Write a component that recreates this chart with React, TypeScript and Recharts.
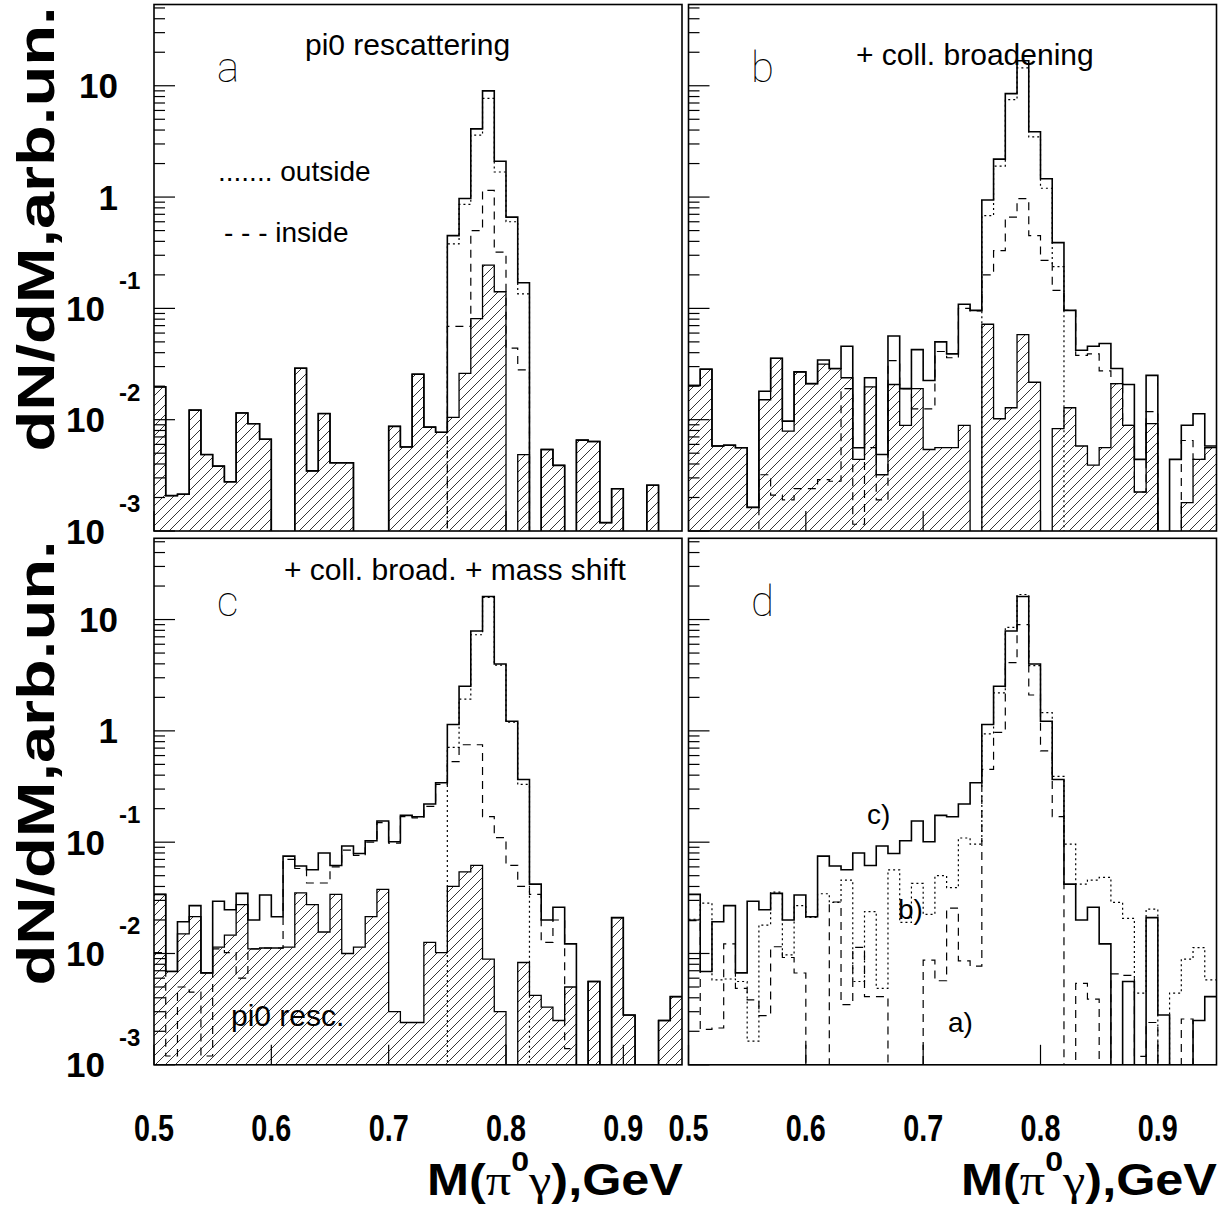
import React from "react";
import { ComposedChart, Line, Area, XAxis, YAxis } from "recharts";

const W = 1223;
const H = 1220;
const SANS = "'Liberation Sans', Arial, Helvetica, sans-serif";
const SERIF = "'Liberation Serif', 'DejaVu Serif', serif";

// bin low edges in GeV, the last entry is the upper edge of the last bin
const BIN_EDGES = [
  0.5, 0.51, 0.52, 0.53, 0.54, 0.55, 0.56, 0.57, 0.58, 0.59,
  0.6, 0.61, 0.62, 0.63, 0.64, 0.65, 0.66, 0.67, 0.68, 0.69,
  0.7, 0.71, 0.72, 0.73, 0.74, 0.75, 0.76, 0.77, 0.78, 0.79,
  0.8, 0.81, 0.82, 0.83, 0.84, 0.85, 0.86, 0.87, 0.88, 0.89,
  0.9, 0.91, 0.92, 0.93, 0.94, 0.95,
];

const X_DOMAIN = [0.5, 0.95];
const X_TICKS = [0.5, 0.6, 0.7, 0.8, 0.9];
const X_TICK_LABELS = ["0.5", "0.6", "0.7", "0.8", "0.9"];

const Y_DOMAIN = [0.001, 53.7];
const Y_MAJOR = [0.001, 0.01, 0.1, 1, 10];
const Y_MAJOR_BASE = ["10", "10", "10", "1", "10"];
const Y_MAJOR_EXP = ["-3", "-2", "-1", "", ""];
const Y_MINOR = [
  0.002, 0.003, 0.004, 0.005, 0.006, 0.007, 0.008, 0.009,
  0.02, 0.03, 0.04, 0.05, 0.06, 0.07, 0.08, 0.09,
  0.2, 0.3, 0.4, 0.5, 0.6, 0.7, 0.8, 0.9,
  2, 3, 4, 5, 6, 7, 8, 9,
  20, 30, 40, 50,
];

// a) pi0 rescattering
const A_TOTAL = [
  0.0197, 0.00208, 0.00214, 0.0122, 0.00486, 0.00383, 0.00277, 0.0115, 0.0092, 0.00668,
  0, 0, 0.029, 0.00347, 0.01135, 0.0041, 0.0041, 0, 0, 0,
  0.0087, 0.00569, 0.0256, 0.00857, 0.0077, 0.45, 0.97, 4.1, 9.0, 2.1,
  0.66, 0.17, 0, 0.0054, 0.00389, 0, 0.00655, 0.00637, 0.00119, 0.0024,
  0, 0, 0.00258, 0, 0,
];
const A_OUTSIDE = [
  0, 0, 0, 0, 0, 0, 0, 0, 0, 0,
  0, 0, 0, 0, 0, 0, 0, 0, 0, 0,
  0, 0, 0, 0, 0, 0.38, 0.86, 3.6, 7.7, 1.68,
  0.6, 0.135, 0, 0, 0, 0, 0, 0, 0, 0,
  0, 0, 0, 0, 0,
];
const A_INSIDE = [
  0, 0, 0, 0, 0, 0, 0, 0, 0, 0,
  0, 0, 0, 0, 0, 0, 0, 0, 0, 0,
  0, 0, 0, 0, 0, 0.069, 0.069, 0.5, 1.15, 0.32,
  0.044, 0.028, 0, 0, 0, 0, 0, 0, 0, 0,
  0, 0, 0, 0, 0,
];
const A_RESC = [
  0.0197, 0.00208, 0.00214, 0.0122, 0.00486, 0.00383, 0.00277, 0.0115, 0.0092, 0.00668,
  0, 0, 0.029, 0.00347, 0.01135, 0.0041, 0.0041, 0, 0, 0,
  0.0087, 0.00569, 0.0256, 0.00857, 0.0077, 0.0105, 0.0261, 0.081, 0.245, 0.141,
  0, 0.00486, 0, 0.0054, 0.00389, 0, 0.00655, 0.00637, 0.00119, 0.0024,
  0, 0, 0.00258, 0, 0,
];

// b) + collisional broadening
const B_TOTAL = [
  0.0203, 0.0284, 0.0058, 0.0059, 0.0056, 0.00163, 0.018, 0.0356, 0.0097, 0.0269,
  0.0211, 0.0344, 0.0288, 0.0457, 0.0056, 0.0238, 0.00486, 0.0565, 0.019, 0.0426,
  0.0225, 0.05, 0.039, 0.109, 0.096, 0.94, 2.19, 8.5, 16.8, 3.86,
  1.46, 0.39, 0.096, 0.042, 0.0457, 0.0483, 0.0288, 0.0207, 0.0044, 0.025,
  0, 0.0044, 0.0089, 0.0113, 0.0058,
];
const B_OUTSIDE = [
  0, 0, 0, 0, 0, 0, 0, 0, 0, 0,
  0, 0, 0, 0, 0, 0, 0, 0, 0, 0,
  0, 0, 0, 0, 0, 0.68, 1.9, 7.5, 14.5, 3.47,
  1.2, 0.237, 0, 0, 0, 0, 0, 0, 0, 0,
  0, 0, 0, 0, 0,
];
const B_INSIDE = [
  0, 0, 0, 0, 0, 0, 0.0032, 0.0021, 0.0019, 0.0024,
  0.0024, 0.0029, 0.0028, 0.019, 0.00115, 0.0056, 0.0019, 0.034, 0.019, 0.0125,
  0.0125, 0.041, 0.036, 0.1, 0.095, 0.2, 0.33, 0.66, 0.97, 0.45,
  0.27, 0.145, 0.096, 0.0378, 0.039, 0.0275, 0.0211, 0.0089, 0.00224, 0.0118,
  0, 0, 0.0065, 0.0044, 0.0056,
];
const B_RESC = [
  0.0203, 0.0284, 0.0058, 0.0059, 0.0056, 0.00163, 0.0151, 0.0356, 0.0079, 0.0269,
  0.0211, 0.0316, 0.0288, 0.0238, 0.0044, 0.0197, 0.0032, 0.0207, 0.0089, 0.019,
  0.0054, 0.0056, 0.0056, 0.0089, 0, 0.072, 0.0102, 0.0128, 0.058, 0.0217,
  0, 0.0083, 0.0128, 0.0058, 0.0039, 0.0056, 0.0211, 0.0089, 0.00224, 0.0092,
  0, 0, 0.0018, 0.0044, 0.0056,
];

// c) + collisional broadening + mass shift
const C_TOTAL = [
  0.034, 0.0069, 0.0193, 0.0269, 0.0067, 0.0295, 0.0247, 0.0347, 0.02, 0.0335,
  0.0214, 0.075, 0.061, 0.0565, 0.08, 0.0618, 0.0925, 0.079, 0.103, 0.155,
  0.101, 0.174, 0.169, 0.22, 0.342, 1.14, 2.52, 7.9, 16.1, 3.99,
  1.22, 0.366, 0.042, 0.02, 0.026, 0.0122, 0, 0.0056, 0, 0.021,
  0.0028, 0, 0, 0.0025, 0.0041,
];
const C_OUTSIDE = [
  0, 0, 0, 0, 0, 0, 0, 0, 0, 0,
  0, 0, 0, 0, 0, 0, 0, 0, 0, 0,
  0, 0, 0, 0, 0, 0.71, 1.93, 7.3, 15.8, 3.9,
  1.2, 0.33, 0, 0, 0, 0, 0, 0, 0, 0,
  0, 0, 0, 0, 0,
];
const C_INSIDE = [
  0.0102, 0.0012, 0.005, 0.0045, 0.0012, 0.011, 0.0102, 0.006, 0.011, 0.0112,
  0.0112, 0.07, 0.058, 0.043, 0.043, 0.06, 0.085, 0.076, 0.1, 0.15,
  0.098, 0.17, 0.165, 0.21, 0.33, 0.53, 0.75, 0.75, 0.17, 0.11,
  0.062, 0.04, 0.034, 0.0126, 0.02, 0.0014, 0, 0, 0, 0,
  0, 0, 0, 0, 0,
];
const C_RESC = [
  0.034, 0.0069, 0.015, 0.0214, 0.0067, 0.0114, 0.0146, 0.0275, 0.011, 0.0112,
  0.0112, 0.0114, 0.035, 0.0275, 0.0156, 0.034, 0.01, 0.0114, 0.0214, 0.0377,
  0.003, 0.0024, 0.0024, 0.0126, 0.0102, 0.04, 0.054, 0.062, 0.0089, 0.003,
  0, 0.0083, 0.0042, 0.0033, 0.0025, 0.005, 0, 0.0056, 0, 0.021,
  0.0028, 0, 0, 0.0025, 0.0041,
];

// empty bins are pushed far below the axis floor and clipped away
const EMPTY = 1e-6;

type Box = { left: number; top: number; right: number; bottom: number };
type Series = { key: string; values: number[]; style: "solid" | "dotted" | "dashed" | "hatch" };

const BOX_A: Box = { left: 154, top: 4.5, right: 682, bottom: 531 };
const BOX_B: Box = { left: 688.5, top: 4.5, right: 1216.5, bottom: 531 };
const BOX_C: Box = { left: 154, top: 538.3, right: 682, bottom: 1064.8 };
const BOX_D: Box = { left: 688.5, top: 538.3, right: 1216.5, bottom: 1064.8 };

function toRows(series: Series[]) {
  return BIN_EDGES.map((x, i) => {
    const row: Record<string, number> = { x };
    series.forEach((s) => {
      const v = s.values[Math.min(i, s.values.length - 1)];
      row[s.key] = v > 0 ? v : EMPTY;
    });
    return row;
  });
}

function renderXTick(props: any, showLabel: boolean) {
  const { x, y, payload } = props;
  const idx = X_TICKS.indexOf(payload.value);
  return (
    <g>
      <line x1={x} y1={y} x2={x} y2={y - 20} stroke="#000" strokeWidth={1.2} />
      {showLabel && idx >= 0 && (
        <text
          x={x}
          y={y + 76}
          textAnchor="middle"
          fontFamily={SANS}
          fontWeight="bold"
          fontSize={37}
          textLength={40}
          lengthAdjust="spacingAndGlyphs"
        >
          {X_TICK_LABELS[idx]}
        </text>
      )}
    </g>
  );
}

function renderYTick(props: any, showLabel: boolean) {
  const { x, y, payload } = props;
  const idx = Y_MAJOR.indexOf(payload.value);
  const major = idx >= 0;
  let label = null;
  if (showLabel && major) {
    label =
      Y_MAJOR_EXP[idx] === "" ? (
        <text x={x - 36} y={y + 12.5} textAnchor="end" fontFamily={SANS} fontWeight="bold" fontSize={35}>
          {Y_MAJOR_BASE[idx]}
        </text>
      ) : (
        <g>
          <text x={x - 49} y={y + 12.5} textAnchor="end" fontFamily={SANS} fontWeight="bold" fontSize={35}>
            {Y_MAJOR_BASE[idx]}
          </text>
          <text x={x - 35} y={y - 19} textAnchor="start" fontFamily={SANS} fontWeight="bold" fontSize={24}>
            {Y_MAJOR_EXP[idx]}
          </text>
        </g>
      );
  }
  return (
    <g>
      <line x1={x} y1={y} x2={x + (major ? 21 : 11)} y2={y} stroke="#000" strokeWidth={1.2} />
      {label}
    </g>
  );
}

function HistPanel({ box, series, xLabels, yLabels }: { box: Box; series: Series[]; xLabels: boolean; yLabels: boolean }) {
  const rows = toRows(series);
  const margin = { left: box.left - 1, top: box.top, right: W - box.right, bottom: H - box.bottom - 1 };
  return (
    <div style={{ position: "absolute", left: 0, top: 0 }}>
      <ComposedChart width={W} height={H} data={rows} margin={margin}>
        <XAxis
          dataKey="x"
          type="number"
          domain={X_DOMAIN}
          ticks={X_TICKS}
          interval={0}
          height={1}
          tickSize={0}
          tickMargin={0}
          axisLine={false}
          tickLine={false}
          allowDataOverflow
          tick={(p: any) => renderXTick(p, xLabels)}
        />
        <YAxis
          type="number"
          scale="log"
          domain={Y_DOMAIN}
          ticks={[...Y_MAJOR, ...Y_MINOR]}
          interval={0}
          width={1}
          tickSize={0}
          tickMargin={0}
          axisLine={false}
          tickLine={false}
          allowDataOverflow
          tick={(p: any) => renderYTick(p, yLabels)}
        />
        {series.map((s) =>
          s.style === "hatch" ? (
            <Area
              key={s.key}
              dataKey={s.key}
              type="stepAfter"
              baseValue={Y_DOMAIN[0]}
              fill="url(#hatch3004)"
              fillOpacity={1}
              stroke="#000"
              strokeWidth={1.3}
              isAnimationActive={false}
              dot={false}
              activeDot={false}
            />
          ) : (
            <Line
              key={s.key}
              dataKey={s.key}
              type="stepAfter"
              stroke="#000"
              strokeWidth={s.style === "solid" ? 1.6 : 1.2}
              strokeDasharray={s.style === "dashed" ? "8 6" : s.style === "dotted" ? "2 3" : undefined}
              dot={false}
              activeDot={false}
              isAnimationActive={false}
            />
          )
        )}
      </ComposedChart>
    </div>
  );
}

const txt = { fontFamily: SANS, fill: "#000" } as const;
const thin = { fontFamily: "Roboto, 'DejaVu Sans', sans-serif", fontWeight: 100, fontSize: 42, fill: "#000" } as const;

function XTitle({ right }: { right: number }) {
  return (
    <text x={right} y={1195} textAnchor="end" fontFamily={SANS} fontWeight="bold" fontSize={44} textLength={256} lengthAdjust="spacingAndGlyphs">
      M(
      <tspan fontFamily={SERIF} fontWeight="normal">π</tspan>
      <tspan dy={-24} fontSize={28}>0</tspan>
      <tspan dy={24} fontFamily={SERIF} fontWeight="normal">γ</tspan>
      ),GeV
    </text>
  );
}

function YTitle({ cy }: { cy: number }) {
  return (
    <text
      transform={`translate(54, ${cy}) rotate(-90)`}
      textAnchor="middle"
      fontFamily={SANS}
      fontWeight="bold"
      fontSize={52}
      textLength={445}
      lengthAdjust="spacingAndGlyphs"
    >
      dN/dM,arb.un.
    </text>
  );
}

export default function App() {
  const boxes = [BOX_A, BOX_B, BOX_C, BOX_D];
  return (
    <div style={{ position: "absolute", left: 0, top: 0, width: W, height: H, background: "#fff", overflow: "hidden" }}>
      <HistPanel
        box={BOX_A}
        xLabels={false}
        yLabels
        series={[
          { key: "resc", values: A_RESC, style: "hatch" },
          { key: "inside", values: A_INSIDE, style: "dashed" },
          { key: "outside", values: A_OUTSIDE, style: "dotted" },
          { key: "total", values: A_TOTAL, style: "solid" },
        ]}
      />
      <HistPanel
        box={BOX_B}
        xLabels={false}
        yLabels={false}
        series={[
          { key: "resc", values: B_RESC, style: "hatch" },
          { key: "inside", values: B_INSIDE, style: "dashed" },
          { key: "outside", values: B_OUTSIDE, style: "dotted" },
          { key: "total", values: B_TOTAL, style: "solid" },
        ]}
      />
      <HistPanel
        box={BOX_C}
        xLabels
        yLabels
        series={[
          { key: "resc", values: C_RESC, style: "hatch" },
          { key: "inside", values: C_INSIDE, style: "dashed" },
          { key: "outside", values: C_OUTSIDE, style: "dotted" },
          { key: "total", values: C_TOTAL, style: "solid" },
        ]}
      />
      <HistPanel
        box={BOX_D}
        xLabels
        yLabels={false}
        series={[
          { key: "a", values: A_TOTAL, style: "dashed" },
          { key: "b", values: B_TOTAL, style: "dotted" },
          { key: "c", values: C_TOTAL, style: "solid" },
        ]}
      />

      <svg width={W} height={H} style={{ position: "absolute", left: 0, top: 0 }}>
        <defs>
          <pattern id="hatch3004" patternUnits="userSpaceOnUse" width={10} height={10}>
            <path d="M-1,1 L1,-1 M0,10 L10,0 M9,11 L11,9" stroke="#000" strokeWidth={0.8} />
          </pattern>
        </defs>
        {boxes.map((b, i) => (
          <rect key={i} x={b.left} y={b.top} width={b.right - b.left} height={b.bottom - b.top} fill="none" stroke="#000" strokeWidth={1.6} />
        ))}

        <YTitle cy={229} />
        <YTitle cy={763} />
        <XTitle right={683} />
        <XTitle right={1217} />

        <text x={217} y={82} {...thin}>a</text>
        <text x={751} y={82} {...thin}>b</text>
        <text x={217} y={616} {...thin}>c</text>
        <text x={751} y={616} {...thin}>d</text>

        <text x={305} y={55} fontSize={30} {...txt}>pi0 rescattering</text>
        <text x={218} y={181} fontSize={28} {...txt}>....... outside</text>
        <text x={224} y={242} fontSize={28} {...txt}>- - -  inside</text>
        <text x={856} y={65} fontSize={30} {...txt}>+ coll. broadening</text>
        <text x={284} y={580} fontSize={30} {...txt}>+ coll. broad. + mass shift</text>
        <text x={231} y={1026} fontSize={30} {...txt}>pi0 resc.</text>
        <text x={867} y={824} fontSize={28} {...txt}>c)</text>
        <text x={898} y={919} fontSize={28} {...txt}>b)</text>
        <text x={948} y={1032} fontSize={28} {...txt}>a)</text>
      </svg>
    </div>
  );
}
